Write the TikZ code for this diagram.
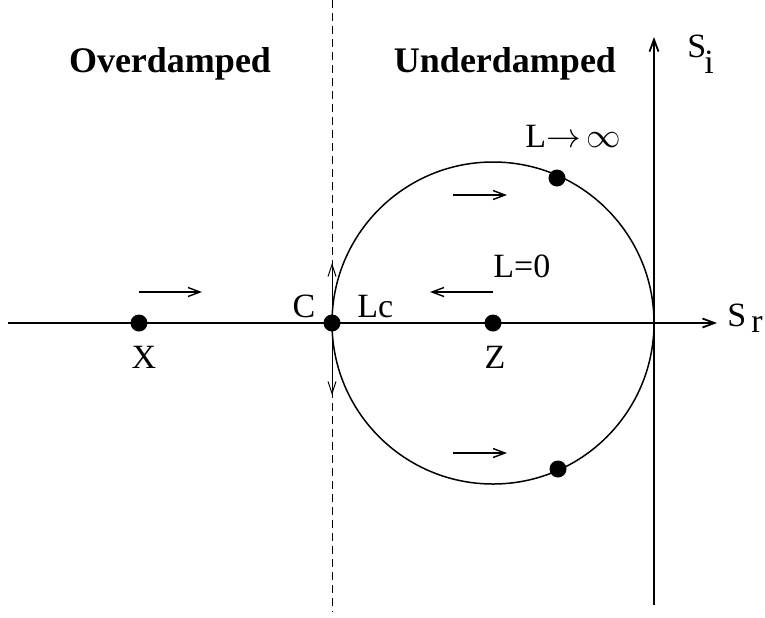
\documentclass[tikz,border=0pt]{standalone}
\usepackage{fontspec}
\setmainfont{Liberation Serif}
\usetikzlibrary{arrows.meta}
\begin{document}
\begin{tikzpicture}[x=0.5pt,y=-0.5pt,
 dot/.style={circle,fill=black,inner sep=0pt,minimum size=8.5pt},
 lbl/.style={font=\fontsize{17}{20}\selectfont, inner sep=0pt},
 ttl/.style={font=\fontsize{18}{22}\selectfont\bfseries, inner sep=0pt},
 axis/.style={line width=0.9pt,-{Straight Barb[length=6pt,width=4.5pt]}},
 flow/.style={line width=0.7pt,-{Straight Barb[length=6pt,width=4.5pt]}},
 ]
\useasboundingbox (0,0) rectangle (765,617);
% dashed separator
\coordinate (dT) at (332,0);
\coordinate (dB) at (332,612);
\draw[line width=0.5pt,dash pattern=on 4pt off 2.5pt] (dT) -- (dB);
% axes
\coordinate (hL) at (8,323);
\coordinate (hR) at (717,323);
\coordinate (vB) at (654,605);
\coordinate (vT) at (654,37);
\draw[axis] (hL) -- (hR);
\draw[axis] (vB) -- (vT);
% circle
\coordinate (O) at (493,323);
\draw[line width=0.75pt] (O) circle[radius=80.5pt];
% dots
\node[dot] (X) at (139,323) {};
\node[dot] (C) at (332,323) {};
\node[dot] (Z) at (493,323) {};
\node[dot] (P) at (557,178) {};
\node[dot] (Q) at (558,469) {};
% vertical double arrow at C
\coordinate (cU) at (332,263);
\coordinate (cD) at (332,395);
\draw[line width=0.5pt,{Straight Barb[length=6pt,width=4pt]}-{Straight Barb[length=6pt,width=4pt]}] (cU) -- (cD);
% flow arrows
\coordinate (a1s) at (139,292); \coordinate (a1e) at (202,292);
\coordinate (a2s) at (453,195); \coordinate (a2e) at (507,195);
\coordinate (a3s) at (493,292); \coordinate (a3e) at (430,292);
\coordinate (a4s) at (453,453); \coordinate (a4e) at (507,453);
\draw[flow] (a1s) -- (a1e);
\draw[flow] (a2s) -- (a2e);
\draw[flow] (a3s) -- (a3e);
\draw[flow] (a4s) -- (a4e);
% titles
\node[ttl,anchor=base] (over) at (170,72) {Overdamped};
\node[ttl,anchor=base] (under) at (505,72) {Underdamped};
% labels
\node[lbl,anchor=base west] (si) at (687,57) {S\kern-1pt\raisebox{-8pt}{i}};
\node[lbl,anchor=base west] (sr) at (727,326) {S\kern2.5pt\raisebox{-3pt}{r}};
\node[lbl,anchor=base] (xl) at (144,368) {X};
\node[lbl,anchor=base] (zl) at (495,368) {Z};
\node[lbl,anchor=base] (cl) at (304,317) {C};
\node[lbl,anchor=base west] (lc) at (357,317) {Lc};
\node[lbl,anchor=base west] (l0) at (493,277) {L=0};
\node[lbl,anchor=base west] (linf) at (525,147) {L$\rightarrow$\,$\infty$};
\end{tikzpicture}
\end{document}
